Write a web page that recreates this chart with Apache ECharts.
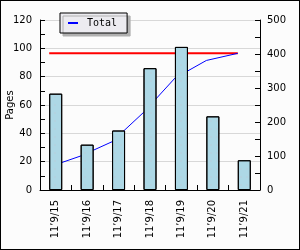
<!DOCTYPE html>
<html><head><meta charset="utf-8">
<script src="https://cdn.jsdelivr.net/npm/echarts@6/dist/echarts.min.js"></script>
<style>
html,body{margin:0;padding:0;background:#fcfcfc;}
#wrap{position:relative;width:300px;height:250px;}
#c{width:300px;height:250px;background:#fcfcfc;}
#frame{position:absolute;left:0;top:0;width:300px;height:250px;box-sizing:border-box;border:1px solid #000;pointer-events:none;}
</style></head>
<body><div id="wrap"><div id="c"></div><div id="frame"></div></div>
<script>
const categories = ['11\u20199/15','11\u20199/16','11\u20199/17','11\u20199/18','11\u20199/19','11\u20199/20','11\u20199/21'];
const pages = [68, 32, 42, 86, 101, 52, 21];
const total = [68, 100, 142, 228, 329, 381, 402];
const target = [402, 402, 402, 402, 402, 402, 402];
const leftTicks = {min: 0, max: 120, interval: 20};
const rightTicks = {min: 0, max: 500, interval: 100};

const font = 'DejaVu Sans';
const chart = echarts.init(document.getElementById('c'), null, {renderer: 'canvas'});
const axisLineStyle = {show: true, lineStyle: {color: '#000', width: 1}};
chart.setOption({
  animation: false,
  backgroundColor: 'transparent',
  aria: {enabled: true, decal: {show: true}},
  legend: {
    data: ['Total'], left: 60, top: 13,
    padding: [5, 10, 5, 8],
    backgroundColor: '#ecebf0', borderColor: '#000', borderWidth: 1,
    shadowColor: '#b0b0b0', shadowOffsetX: 3, shadowOffsetY: 3, shadowBlur: 0,
    icon: 'rect', itemWidth: 10, itemHeight: 2, itemGap: 5,
    textStyle: {fontFamily: 'DejaVu Sans Mono', fontSize: 10, color: '#000', padding: [0, 0, 0, 4]}
  },
  grid: [
    {left: 40, right: 40, top: 20, bottom: 60, containLabel: false, outerBoundsMode: 'none'},
    {left: 33.5, right: 46.5, top: 20, bottom: 60, containLabel: false, outerBoundsMode: 'none'}
  ],
  xAxis: [
    {type: 'category', data: categories, gridIndex: 0,
     axisLine: axisLineStyle,
     axisTick: {show: true, inside: true, length: 5, lineStyle: {color: '#000'}},
     axisLabel: {rotate: 90, margin: 10, fontFamily: font, fontSize: 10, color: '#000'}},
    {type: 'category', data: categories, gridIndex: 1, boundaryGap: true, show: false}
  ],
  yAxis: [
    {type: 'value', gridIndex: 0, min: leftTicks.min, max: leftTicks.max, interval: leftTicks.interval,
     name: 'Pages', nameLocation: 'middle', nameGap: 25, nameRotate: 90, nameMoveOverlap: false,
     nameTextStyle: {fontFamily: font, fontSize: 10, color: '#000'},
     axisLine: axisLineStyle,
     axisTick: {show: true, inside: true, length: 5, lineStyle: {color: '#000'}},
     minorTick: {show: true, splitNumber: 2, length: 5, lineStyle: {color: '#000'}},
     splitLine: {show: true, lineStyle: {color: '#d8d8d8', width: 1}},
     axisLabel: {margin: 8, fontFamily: font, fontSize: 10, color: '#000'}},
    {type: 'value', gridIndex: 0, position: 'right', min: rightTicks.min, max: rightTicks.max, interval: rightTicks.interval,
     axisLine: axisLineStyle,
     axisTick: {show: true, inside: true, length: 5, lineStyle: {color: '#000'}},
     minorTick: {show: true, splitNumber: 2, length: 5, lineStyle: {color: '#000'}},
     splitLine: {show: false},
     axisLabel: {margin: 7, fontFamily: font, fontSize: 10, color: '#000'}},
    {type: 'value', gridIndex: 1, min: rightTicks.min, max: rightTicks.max, show: false, splitLine: {show: false}}
  ],
  series: [
    {name: 'Limit', type: 'line', xAxisIndex: 1, yAxisIndex: 2, data: target, z: 1,
     symbol: 'none', lineStyle: {color: '#ff0000', width: 2}, silent: true},
    {name: 'Total', type: 'line', xAxisIndex: 1, yAxisIndex: 2, data: total, z: 1,
     symbol: 'none', lineStyle: {color: '#0000ff', width: 1}, itemStyle: {color: '#0000ff'}},
    {name: 'Pages', type: 'bar', xAxisIndex: 0, yAxisIndex: 0, data: pages, z: 3,
     barWidth: 13,
     itemStyle: {color: '#add8e6', borderColor: '#000', borderWidth: 1,
       decal: {symbol: 'rect', symbolSize: 0.5, dashArrayX: [2, 4], dashArrayY: [2, 6], rotation: 0, color: 'rgba(225,160,175,0.35)'}}}
  ]
});
</script></body></html>
